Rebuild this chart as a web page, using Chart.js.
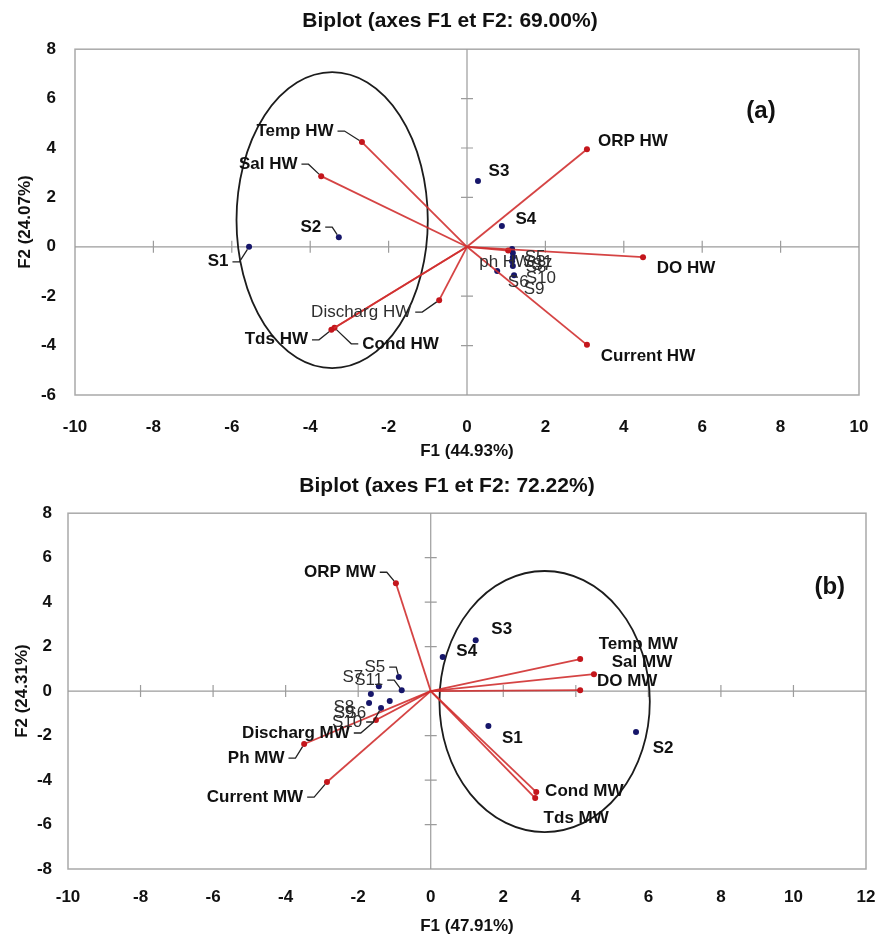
<!DOCTYPE html>
<html lang="en">
<head>
<meta charset="UTF-8" />
<title>Biplot F1 / F2</title>
<script src="https://cdn.jsdelivr.net/npm/chart.js"></script>
<style>
  html, body { margin: 0; padding: 0; background: #fff; }
  .panel { position: absolute; left: 0; width: 886px; }
  #panelA { top: 0; height: 470px; }
  #panelB { top: 470px; height: 467px; }
</style>
</head>
<body>
<div class="panel" id="panelA"><canvas id="chartA"></canvas></div>
<div class="panel" id="panelB"><canvas id="chartB"></canvas></div>

<script>
// ---- (a) high water ----
const hwVars = ["Temp HW", "Sal HW", "Discharg HW", "Tds HW", "Cond HW", "ORP HW", "DO HW", "Current HW", "ph HW"];
const hwVarF1 = [-2.68, -3.72, -0.71, -3.46, -3.38, 3.06, 4.49, 3.06, 1.05];
const hwVarF2 = [4.24, 2.86, -2.16, -3.36, -3.28, 3.95, -0.42, -3.97, -0.15];
const hwSamples = ["S1", "S2", "S3", "S4", "S5", "S6", "S7", "S8", "S9", "S10", "S11"];
const hwSampF1 = [-5.56, -3.27, 0.28, 0.89, 1.15, 0.77, 1.17, 1.15, 1.2, 1.17, 1.17];
const hwSampF2 = [0.0, 0.39, 2.66, 0.84, -0.09, -0.98, -0.42, -0.58, -1.15, -0.78, -0.25];

// ---- (b) medium water ----
const mwVars = ["ORP MW", "Discharg MW", "Ph MW", "Current MW", "Temp MW", "Sal MW", "DO MW", "Cond MW", "Tds MW"];
const mwVarF1 = [-0.96, -1.51, -3.49, -2.86, 4.12, 4.5, 4.12, 2.91, 2.88];
const mwVarF2 = [4.85, -1.3, -2.38, -4.09, 1.44, 0.76, 0.04, -4.54, -4.81];
const mwSamples = ["S1", "S2", "S3", "S4", "S5", "S6", "S7", "S8", "S9", "S10", "S11"];
const mwSampF1 = [1.59, 5.66, 1.24, 0.33, -0.88, -1.13, -1.43, -1.65, -1.7, -1.37, -0.8];
const mwSampF2 = [-1.57, -1.84, 2.29, 1.53, 0.63, -0.45, 0.22, -0.13, -0.54, -0.76, 0.04];

// label placement: [dx, dy, leader line?, style]
const hwLabelPos = {
  "Temp HW": [-67, -11, true], "Sal HW": [-53, -12, true], "Discharg HW": [-78, 12, true, "light"],
  "Tds HW": [-55, 10, true], "Cond HW": [66, 16, true], "ORP HW": [46, -8], "DO HW": [43, 11],
  "Current HW": [61, 11], "ph HW": [-3, 12, false, "light"],
  "S1": [-31, 15, true], "S2": [-28, -10, true], "S3": [21, -10], "S4": [24, -7],
  "S5": [23, 8, false, "light"], "S6": [21, 11, false, "light"], "S7": [29, 8, false, "light"],
  "S8": [24, 6, false, "light"], "S9": [20, 14, false, "light"], "S10": [28, 12, false, "light"],
  "S11": [25, 9, false, "light"]
};
const mwLabelPos = {
  "ORP MW": [-56, -11, true], "Discharg MW": [-80, 13, true], "Ph MW": [-48, 14, true],
  "Current MW": [-72, 15, true], "Temp MW": [58, -15], "Sal MW": [48, -12], "DO MW": [47, -9],
  "Cond MW": [48, -1], "Tds MW": [41, 20],
  "S1": [24, 12], "S2": [27, 16], "S3": [26, -11], "S4": [24, -6],
  "S5": [-24, -10, true, "light"], "S6": [-34, 12, false, "light"], "S7": [-26, -9, false, "light"],
  "S8": [-27, 13, false, "light"], "S9": [-25, 10, false, "light"], "S10": [-34, 14, true, "light"],
  "S11": [-33, -10, true, "light"]
};

const FONT = "'Liberation Sans', Arial, sans-serif";
const RED = "rgba(208,48,48,0.9)";

// frame, zero axes, ellipse, point labels
function overlay(spec) {
  return {
    id: "overlay",
    beforeDatasetsDraw(chart) {
      const { ctx, chartArea: a, scales: { x, y } } = chart;
      ctx.save();
      ctx.strokeStyle = "#a9a9a9";
      ctx.lineWidth = 1.5;
      ctx.strokeRect(a.left, a.top, a.right - a.left, a.bottom - a.top);

      const x0 = x.getPixelForValue(0), y0 = y.getPixelForValue(0);
      ctx.strokeStyle = "#9c9c9c";
      ctx.lineWidth = 1.2;
      ctx.beginPath();
      ctx.moveTo(a.left, y0); ctx.lineTo(a.right, y0);
      ctx.moveTo(x0, a.top); ctx.lineTo(x0, a.bottom);
      x.ticks.forEach(t => {
        if (t.value === 0 || t.value === x.min || t.value === x.max) return;
        const px = x.getPixelForValue(t.value);
        ctx.moveTo(px, y0 - 6); ctx.lineTo(px, y0 + 6);
      });
      y.ticks.forEach(t => {
        if (t.value === 0 || t.value === y.min || t.value === y.max) return;
        const py = y.getPixelForValue(t.value);
        ctx.moveTo(x0 - 6, py); ctx.lineTo(x0 + 6, py);
      });
      ctx.stroke();

      const e = spec.ellipse;
      const cx = x.getPixelForValue(e.cx), cy = y.getPixelForValue(e.cy);
      const rx = Math.abs(x.getPixelForValue(e.cx + e.rx) - cx);
      const ry = Math.abs(y.getPixelForValue(e.cy + e.ry) - cy);
      ctx.beginPath();
      ctx.ellipse(cx, cy, rx, ry, 0, 0, Math.PI * 2);
      ctx.strokeStyle = "#1c1c1c";
      ctx.lineWidth = 1.8;
      ctx.stroke();
      ctx.restore();
    },
    afterDatasetsDraw(chart) {
      const { ctx, scales: { x, y } } = chart;
      ctx.save();
      ctx.textAlign = "center";
      ctx.textBaseline = "middle";
      spec.labels.forEach(l => {
        const pos = spec.pos[l.text] || [10, -10];
        const px = x.getPixelForValue(l.f1), py = y.getPixelForValue(l.f2);
        const lx = px + pos[0], ly = py + pos[1];
        const light = pos[3] === "light";
        ctx.font = (light ? "" : "bold ") + "17px " + FONT;
        ctx.fillStyle = light ? "#2e2e2e" : "#111";
        ctx.fillText(l.text, lx, ly);
        if (pos[2]) {
          const w = ctx.measureText(l.text).width;
          const side = px > lx ? 1 : -1;
          const sx = lx + side * (w / 2 + 4);
          const mx = sx + side * 7;
          const dx = px - mx, dy = py - ly, d = Math.hypot(dx, dy) || 1;
          ctx.beginPath();
          ctx.moveTo(sx, ly);
          ctx.lineTo(mx, ly);
          ctx.lineTo(px - dx / d * 3, py - dy / d * 3);
          ctx.strokeStyle = "#222";
          ctx.lineWidth = 1.3;
          ctx.stroke();
        }
      });
      ctx.font = "bold 24px " + FONT;
      ctx.fillStyle = "#111";
      ctx.fillText(spec.tag.text, x.getPixelForValue(spec.tag.f1), y.getPixelForValue(spec.tag.f2));
      ctx.restore();
    }
  };
}

function buildDatasets(vars, vf1, vf2, samples, sf1, sf2) {
  const sets = vars.map((name, i) => ({
    label: name,
    type: "line",
    data: [{ x: 0, y: 0 }, { x: vf1[i], y: vf2[i] }],
    borderColor: RED,
    borderWidth: 1.8,
    pointRadius: [0, 3],
    pointBackgroundColor: "#c4161c",
    pointBorderWidth: 0
  }));
  sets.push({
    label: "samples",
    data: samples.map((s, i) => ({ x: sf1[i], y: sf2[i] })),
    pointRadius: 3,
    pointBackgroundColor: "#16166a",
    pointBorderWidth: 0
  });
  return sets;
}

function drawBiplot(canvasId, o) {
  const tickFont = { family: FONT, size: 17, weight: "bold" };
  const titleFont = { family: FONT, size: 17, weight: "bold" };
  const labels = o.vars.map((v, i) => ({ text: v, f1: o.vf1[i], f2: o.vf2[i] }))
    .concat(o.samples.map((s, i) => ({ text: s, f1: o.sf1[i], f2: o.sf2[i] })));
  new Chart(document.getElementById(canvasId), {
    type: "scatter",
    data: { datasets: buildDatasets(o.vars, o.vf1, o.vf2, o.samples, o.sf1, o.sf2) },
    options: {
      responsive: true,
      maintainAspectRatio: false,
      animation: false,
      layout: { padding: { left: o.padLeft, right: 0, top: 0, bottom: 0 } },
      plugins: {
        legend: { display: false },
        tooltip: { enabled: false },
        title: {
          display: true, text: o.title, color: "#111",
          font: { family: FONT, size: 21, weight: "bold" },
          padding: o.titlePad
        }
      },
      scales: {
        x: {
          type: "linear", min: o.xMin, max: o.xMax,
          ticks: { stepSize: 2, padding: o.xTickPad, color: "#111", font: tickFont, maxRotation: 0 },
          grid: { display: false, drawTicks: false },
          border: { display: false },
          title: { display: true, text: o.xTitle, color: "#111", font: titleFont, padding: { top: 0, bottom: o.xTitlePad } },
          afterFit: s => { s.height = o.xAxisH; s.paddingLeft = 0; s.paddingRight = o.padRight; }
        },
        y: {
          type: "linear", min: o.yMin, max: o.yMax,
          ticks: { stepSize: 2, padding: o.yTickPad, color: "#111", font: tickFont },
          grid: { display: false, drawTicks: false },
          border: { display: false },
          title: { display: true, text: o.yTitle, color: "#111", font: titleFont, padding: { top: o.yTitlePad, bottom: 0 } },
          afterFit: s => { s.width = o.yAxisW; }
        }
      }
    },
    plugins: [overlay({ labels: labels, pos: o.pos, ellipse: o.ellipse, tag: o.tag })]
  });
}

drawBiplot("chartA", {
  title: "Biplot (axes F1 et F2: 69.00%)",
  xTitle: "F1 (44.93%)", yTitle: "F2 (24.07%)",
  xMin: -10, xMax: 10, yMin: -6, yMax: 8,
  vars: hwVars, vf1: hwVarF1, vf2: hwVarF2,
  samples: hwSamples, sf1: hwSampF1, sf2: hwSampF2,
  pos: hwLabelPos,
  ellipse: { cx: -3.44, cy: 1.08, rx: 2.44, ry: 5.99 },
  tag: { text: "(a)", f1: 7.5, f2: 5.5 },
  padLeft: 14, padRight: 27, titlePad: { top: 9, bottom: 15 },
  xAxisH: 75, xTickPad: 22, xTitlePad: 8,
  yAxisW: 61, yTickPad: 19, yTitlePad: 1
});

drawBiplot("chartB", {
  title: "Biplot (axes F1 et F2: 72.22%)",
  xTitle: "F1 (47.91%)", yTitle: "F2 (24.31%)",
  xMin: -10, xMax: 12, yMin: -8, yMax: 8,
  vars: mwVars, vf1: mwVarF1, vf2: mwVarF2,
  samples: mwSamples, sf1: mwSampF1, sf2: mwSampF2,
  pos: mwLabelPos,
  ellipse: { cx: 3.14, cy: -0.47, rx: 2.9, ry: 5.87 },
  tag: { text: "(b)", f1: 11.0, f2: 4.67 },
  padLeft: 8, padRight: 20, titlePad: { top: 4, bottom: 14 },
  xAxisH: 68, xTickPad: 18, xTitlePad: 0,
  yAxisW: 60, yTickPad: 16, yTitlePad: 4
});
</script>
</body>
</html>
